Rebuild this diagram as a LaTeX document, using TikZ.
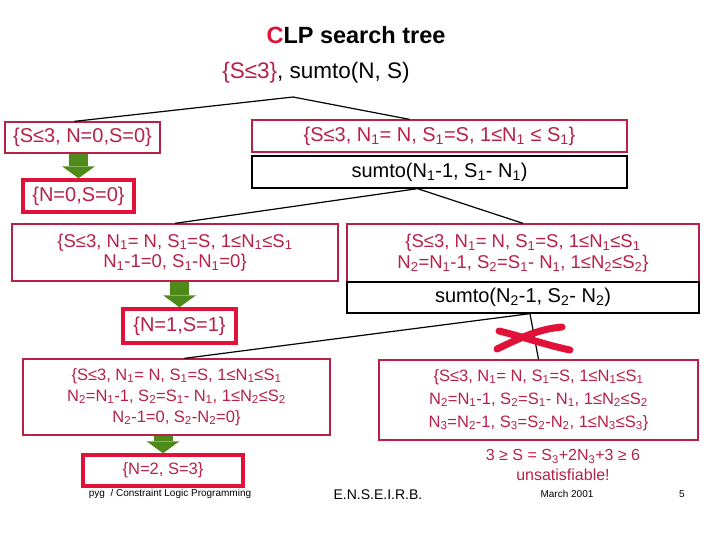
\documentclass[tikz,border=0pt]{standalone}
\usepackage{fontspec}
\setmainfont{Liberation Sans}
\usetikzlibrary{arrows.meta,positioning}

\definecolor{clpred}{RGB}{183,33,72}
\definecolor{solred}{RGB}{224,18,58}
\definecolor{clpgreen}{RGB}{78,138,26}
\newcommand{\idx}[1]{\textsubscript{#1}}
\newcommand{\fsz}[2]{\fontsize{#1}{#2}\selectfont}

\begin{document}
\begin{tikzpicture}[x=1pt, y=-1pt,
    cbox/.style={rectangle, draw=clpred, line width=1.3pt, text=clpred, align=center, inner sep=0pt},
    goalbox/.style={rectangle, draw=black, line width=1.3pt, inner sep=0pt, font=\fsz{20}{24}},
    solbox/.style={rectangle, draw=solred, line width=3.5pt, text=clpred, inner sep=0pt},
    edge/.style={draw, line width=1.2pt},
    down/.style={draw=clpgreen, line width=19pt, -{Triangle[width=33pt, length=12pt, line width=0pt]}}]

    \useasboundingbox (0,0) rectangle (710,533);
    \fill[white] (0,0) rectangle (710,533);

    % heading and query
    \node (title) at (356,35) {\bfseries\fsz{23.5}{27}\textcolor{solred}{C}LP search tree};
    \node (query) at (316,73) {\fsz{22.5}{26}\textcolor{clpred}{\{S≤3\}}, sumto(N, S)};

    % first level
    \node [cbox, minimum width=155pt, minimum height=31pt, font=\fsz{20}{24}] (b0) at (82.5,137.5)
        {\{S≤3, N=0,S=0\}};
    \node [solbox, minimum width=111pt, minimum height=32pt, font=\fsz{20}{24}] (s0) at (78.5,196)
        {\{N=0,S=0\}};
    \node [cbox, minimum width=375pt, minimum height=32pt, font=\fsz{20}{24}] (b1) at (439.5,136)
        {\{S≤3, N\idx{1}= N, S\idx{1}=S, 1≤N\idx{1} ≤ S\idx{1}\}};
    \node [goalbox, minimum width=375pt, minimum height=32pt] (g1) at (439.5,172)
        {sumto(N\idx{1}-1, S\idx{1}- N\idx{1})};

    % second level
    \node [cbox, minimum width=326pt, minimum height=57pt, font=\fsz{18.5}{20.5}] (b2l) at (175,252.5)
        {\{S≤3, N\idx{1}= N, S\idx{1}=S, 1≤N\idx{1}≤S\idx{1}\\
         N\idx{1}-1=0, S\idx{1}-N\idx{1}=0\}};
    \node [cbox, minimum width=352pt, minimum height=58pt, font=\fsz{18.5}{21}] (b2r) at (523,253)
        {\{S≤3, N\idx{1}= N, S\idx{1}=S, 1≤N\idx{1}≤S\idx{1}\\
         N\idx{2}=N\idx{1}-1, S\idx{2}=S\idx{1}- N\idx{1}, 1≤N\idx{2}≤S\idx{2}\}};
    \node [goalbox, minimum width=352pt, minimum height=31pt] (g2) at (523,297.5)
        {sumto(N\idx{2}-1, S\idx{2}- N\idx{2})};
    \node [solbox, minimum width=113pt, minimum height=34pt, font=\fsz{20}{24}] (s1) at (179.5,326)
        {\{N=1,S=1\}};

    % third level
    \node [cbox, minimum width=307pt, minimum height=76pt, font=\fsz{16.5}{21}] (b3l) at (176.5,397)
        {\{S≤3, N\idx{1}= N, S\idx{1}=S, 1≤N\idx{1}≤S\idx{1}\\
         N\idx{2}=N\idx{1}-1, S\idx{2}=S\idx{1}- N\idx{1}, 1≤N\idx{2}≤S\idx{2}\\
         N\idx{2}-1=0, S\idx{2}-N\idx{2}=0\}};
    \node [cbox, minimum width=319pt, minimum height=80pt, font=\fsz{16.5}{23}] (b3r) at (538.5,400)
        {\{S≤3, N\idx{1}= N, S\idx{1}=S, 1≤N\idx{1}≤S\idx{1}\\
         N\idx{2}=N\idx{1}-1, S\idx{2}=S\idx{1}- N\idx{1}, 1≤N\idx{2}≤S\idx{2}\\
         N\idx{3}=N\idx{2}-1, S\idx{3}=S\idx{2}-N\idx{2}, 1≤N\idx{3}≤S\idx{3}\}};
    \node [solbox, minimum width=160pt, minimum height=31pt, font=\fsz{16.5}{20}] (s2) at (163,470.5)
        {\{N=2, S=3\}};
    \node [text=clpred, align=center, font=\fsz{16}{20}] (unsat) at (563,465)
        {3 ≥ S = S\idx{3}+2N\idx{3}+3 ≥ 6\\ unsatisfiable!};

    % tree edges
    \coordinate (t0) at (293,97);
    \coordinate (t1) at ([xshift=-22pt]g1.south);
    \coordinate (t2) at ([xshift=7pt]g2.south);
    \draw[edge] ([xshift=-8pt]b0.north) -- (t0) -- ([xshift=-30pt]b1.north);
    \draw[edge] (b2l.north) -- (t1) -- (b2r.north);
    \draw[edge] ([xshift=8pt]b3l.north) -- (t2) -- (b3r.north);

    % solved forms
    \draw[down] (b0.south -| s0.north) -- (s0.north);
    \draw[down] (b2l.south -| s1.north) -- (s1.north);
    \draw[down] (b3l.south -| s2.north) -- (s2.north);

    % failed branch
    \draw[solred, line width=7pt, line cap=round] (497,349) .. controls (518,339) and (538,329) .. (562,327);
    \draw[solred, line width=7pt, line cap=round] (499,331) .. controls (524,337) and (546,345) .. (570,350);

    % footer
    \node [font=\fsz{10}{12}] (foot1) at (170,494) {pyg~ / Constraint Logic Programming};
    \node [font=\fsz{14}{16}] (foot2) at (378,495) {E.N.S.E.I.R.B.};
    \node [font=\fsz{10}{12}] (foot3) at (567,494) {March 2001};
    \node [font=\fsz{10}{12}] (foot4) at (682,494) {5};
\end{tikzpicture}
\end{document}
